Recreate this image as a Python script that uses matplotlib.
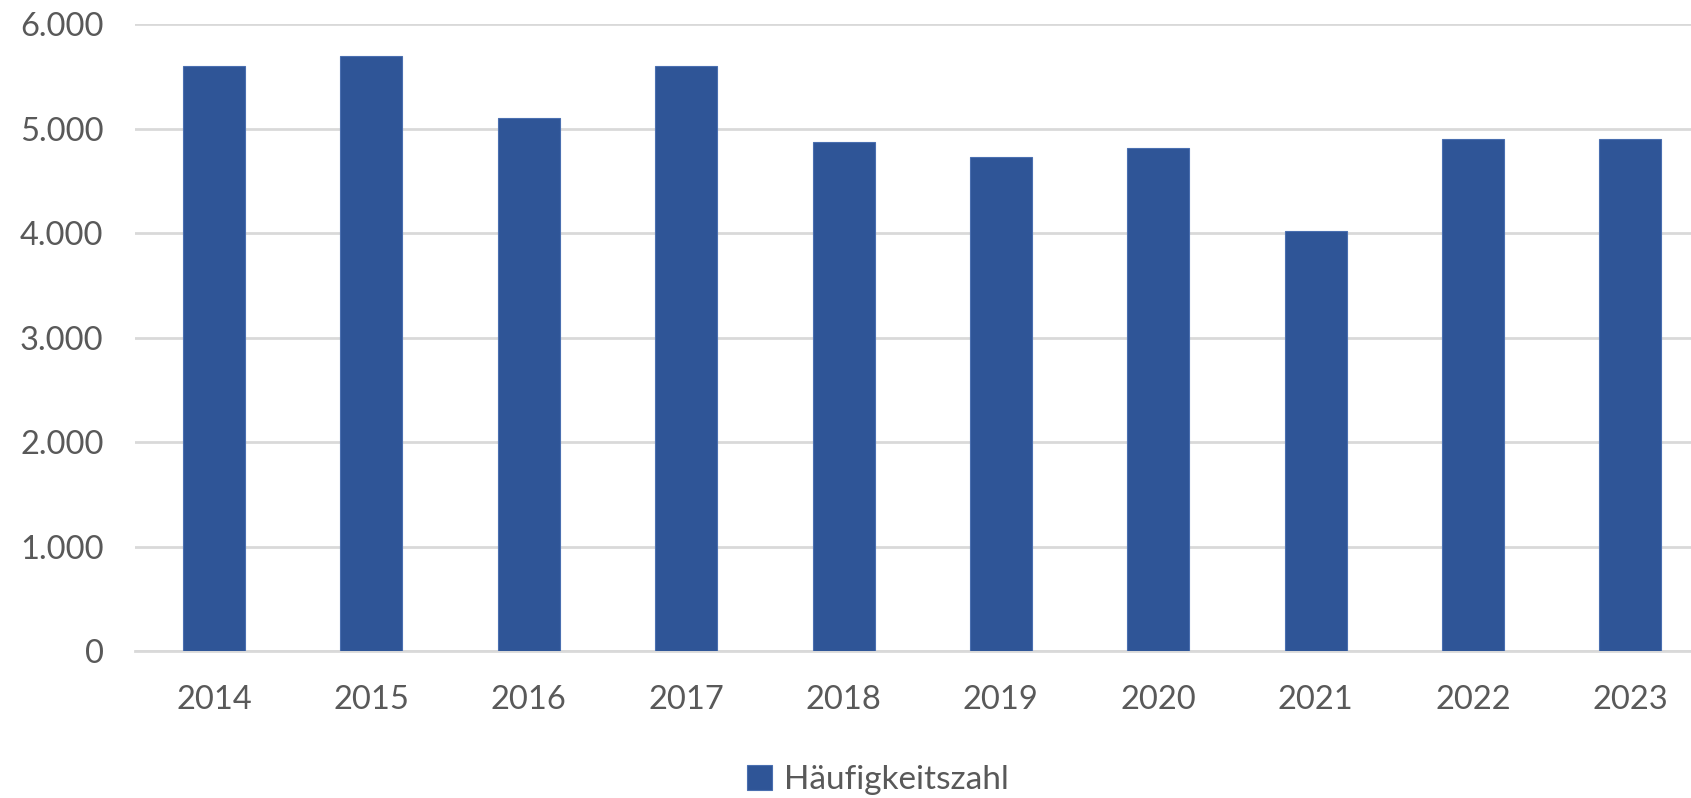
import matplotlib
matplotlib.use("Agg")
import matplotlib.pyplot as plt
from matplotlib.ticker import FuncFormatter, MultipleLocator

years = ["2014", "2015", "2016", "2017", "2018", "2019", "2020", "2021", "2022", "2023"]
values = [5600, 5690, 5105, 5600, 4870, 4725, 4812, 4023, 4900, 4900]
series_name = "Häufigkeitszahl"

bar_color = "#2F5597"
text_color = "#595959"
grid_color = "#D9D9D9"

plt.rcParams['font.family'] = ['Lato', 'DejaVu Sans']

fig = plt.figure(figsize=(16.91, 7.98), dpi=100)
ax = fig.add_axes([0.0801, 0.1838, 0.9305, 0.7862])

x = list(range(len(years)))
bars = ax.bar(x, values, width=0.394, color=bar_color, edgecolor="#4A6FB0", linewidth=0.8,
              label=series_name, zorder=3)

ax.set_xlim(-0.5, len(years) - 0.5)
ax.set_ylim(0, 6000)
ax.yaxis.set_major_locator(MultipleLocator(1000))
ax.yaxis.set_major_formatter(FuncFormatter(lambda v, p: f"{int(v):,}".replace(",", ".")))
ax.set_xticks(x)
ax.set_xticklabels(years)

ax.grid(axis="y", color=grid_color, linewidth=2, zorder=0)
ax.set_axisbelow(True)
for s in ["top", "right", "left"]:
    ax.spines[s].set_visible(False)
ax.spines["bottom"].set_color(grid_color)
ax.spines["bottom"].set_linewidth(2)
ax.spines["bottom"].set_zorder(1)

ax.tick_params(axis="y", length=0, pad=23, labelsize=23.5, labelcolor=text_color)
ax.tick_params(axis="x", length=0, pad=24, labelsize=23.5, labelcolor=text_color)

fig.legend(handles=[bars], labels=[series_name], loc="center", bbox_to_anchor=(0.519, 0.0226),
           frameon=False, fontsize=24, labelcolor=text_color, handlelength=0.75,
           handleheight=0.75, handletextpad=0.35)

fig.savefig("out.png", dpi=100)
